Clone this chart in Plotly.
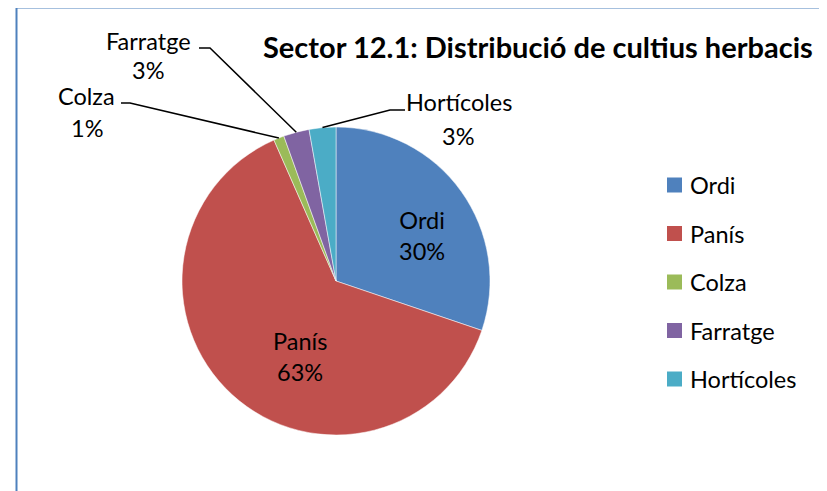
import math
import plotly.graph_objects as go

# ---- data ----
categories = ["Ordi", "Panís", "Colza", "Farratge", "Hortícoles"]
values = [30.2, 63.2, 1.1, 2.7, 2.8]
colors = ["#4F81BD", "#C0504D", "#9BBB59", "#8064A2", "#4BACC6"]
title_text = "Sector 12.1: Distribució de cultius herbacis"

W, H = 827, 491
OFF = 8  # page body margin
FONT = "Lato"
LBL = 23.5
CX, CY, R = 336, 281, 154


def px(x):
    return (x - OFF) / W


def py(y):
    return 1 - (y - OFF) / H


total = sum(values)
pcts = [v / total for v in values]

fig = go.Figure()
fig.add_trace(go.Pie(
    labels=categories,
    values=values,
    sort=False,
    direction="clockwise",
    rotation=0,
    marker=dict(colors=colors, line=dict(color="white", width=0.5)),
    textinfo="none",
    hoverinfo="label+percent",
    showlegend=False,
    domain=dict(x=[px(CX - R), px(CX + R)], y=[py(CY + R), py(CY - R)]),
))

annotations = []
shapes = []

# inside labels
inside_pos = {"Ordi": (422, 235), "Panís": (300, 356)}
# outside labels: name pos, pct pos, tick start, tick end
outside_pos = {
    "Colza": ((86, 96), (87, 128), (121, 103), (130, 103)),
    "Farratge": ((148, 41), (148, 70), (199, 48), (210, 48)),
    "Hortícoles": ((459, 102), (458, 136), (405, 110), (390, 110)),
}

cum = 0.0
for cat, p, col in zip(categories, pcts, colors):
    mid = (cum + p / 2) * 2 * math.pi
    cum += p
    pct_txt = f"{round(p * 100):d}%"
    if cat in inside_pos:
        x, y = inside_pos[cat]
        annotations.append(dict(x=px(x), y=py(y), xref="paper", yref="paper",
                                text=f"{cat}<br>{pct_txt}", showarrow=False,
                                font=dict(family=FONT, size=LBL, color="black"),
                                xanchor="center", yanchor="middle"))
    else:
        (nx, ny), (qx, qy), (t0x, t0y), (t1x, t1y) = outside_pos[cat]
        annotations.append(dict(x=px(nx), y=py(ny), xref="paper", yref="paper",
                                text=cat, showarrow=False,
                                font=dict(family=FONT, size=LBL, color="black"),
                                xanchor="center", yanchor="middle"))
        annotations.append(dict(x=px(qx), y=py(qy), xref="paper", yref="paper",
                                text=pct_txt, showarrow=False,
                                font=dict(family=FONT, size=LBL, color="black"),
                                xanchor="center", yanchor="middle"))
        ex = CX + R * math.sin(mid)
        ey = CY - R * math.cos(mid)
        shapes.append(dict(type="path", xref="paper", yref="paper",
                           path=f"M {px(t0x)},{py(t0y)} L {px(t1x)},{py(t1y)} L {px(ex)},{py(ey)}",
                           line=dict(color="black", width=1.5)))

# legend (manual, to match spacing)
for i, (cat, col) in enumerate(zip(categories, colors)):
    yc = 185 + 48.5 * i
    shapes.append(dict(type="rect", xref="paper", yref="paper",
                       x0=px(667), x1=px(682), y0=py(yc + 7.5), y1=py(yc - 7.5),
                       fillcolor=col, line=dict(width=0)))
    annotations.append(dict(x=px(688), y=py(yc), xref="paper", yref="paper",
                            text=cat, showarrow=False, xanchor="left", yanchor="middle",
                            font=dict(family=FONT, size=LBL, color="black")))

# title
annotations.append(dict(x=px(538), y=py(46), xref="paper", yref="paper",
                        text=f"<b>{title_text}</b>", showarrow=False,
                        xanchor="center", yanchor="middle",
                        font=dict(family=FONT, size=29, color="black")))

# frame
shapes.append(dict(type="path", xref="paper", yref="paper",
                   path=f"M {px(16.5)},{py(H + 20)} L {px(16.5)},{py(7.5)} L {px(823)},{py(7.5)} L {px(823)},{py(H + 20)}",
                   line=dict(color="#4F81BD", width=2)))

fig.update_layout(
    width=W, height=H,
    margin=dict(l=0, r=0, t=0, b=0),
    paper_bgcolor="white", plot_bgcolor="white",
    annotations=annotations, shapes=shapes,
    font=dict(family=FONT),
)

fig.write_html("out.html")
